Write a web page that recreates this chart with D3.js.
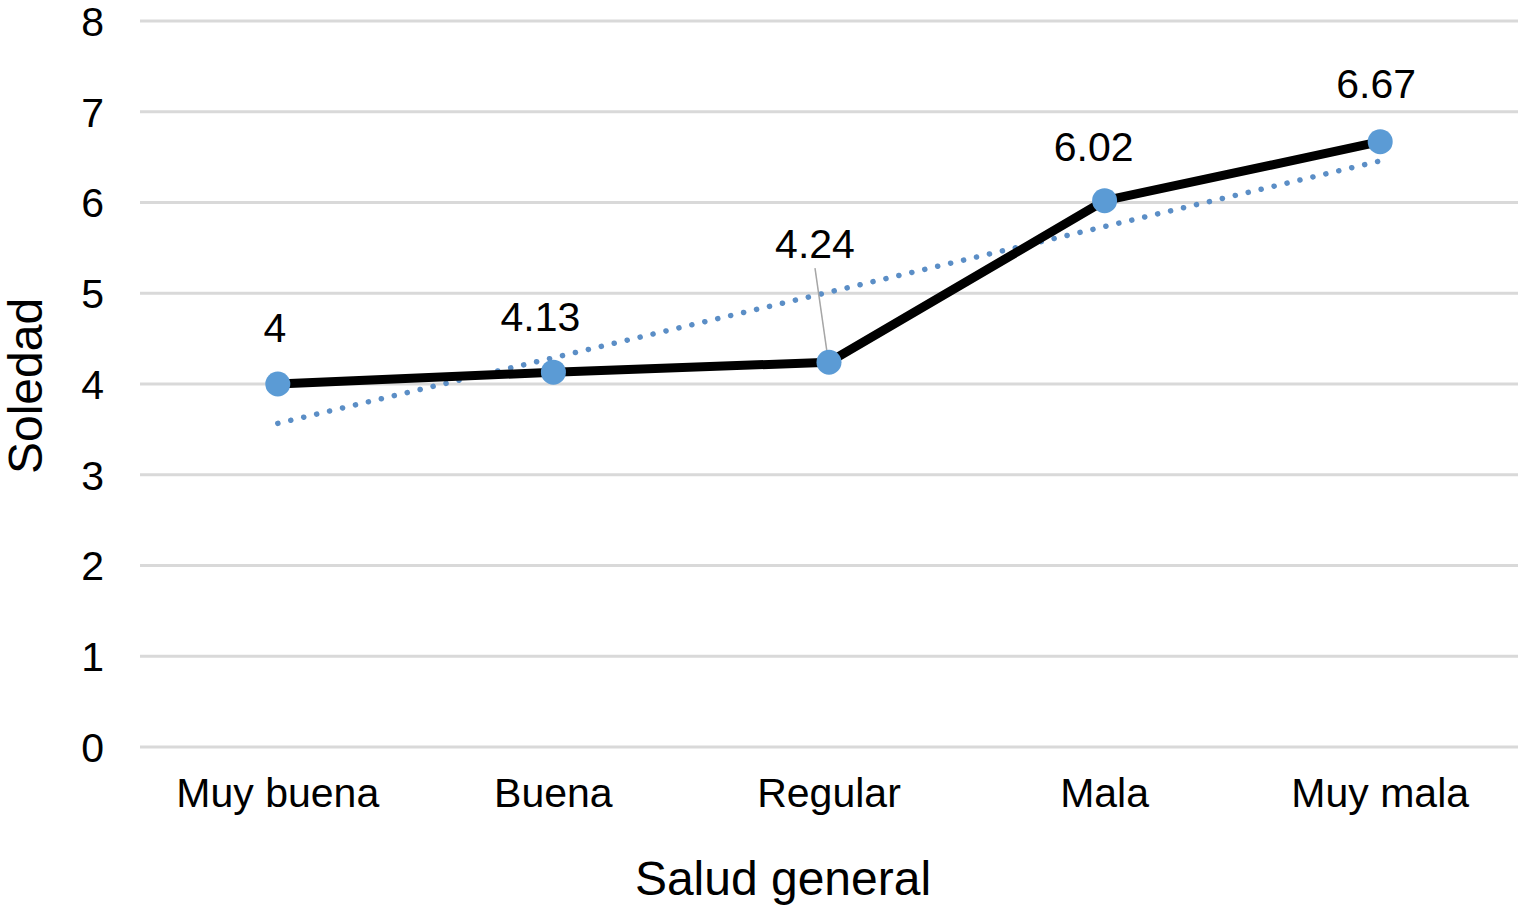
<!DOCTYPE html>
<html>
<head>
<meta charset="utf-8">
<script src="https://cdn.jsdelivr.net/npm/d3@7"></script>
<style>
  html, body { margin: 0; padding: 0; background: #fff; }
  svg { display: block; font-family: "Liberation Sans", Arial, Helvetica, sans-serif; }
</style>
</head>
<body>
<svg id="chart" width="1529" height="906"></svg>
<script>
const categories = ["Muy buena", "Buena", "Regular", "Mala", "Muy mala"];
const soledad = [4, 4.13, 4.24, 6.02, 6.67];
const yTicks = [0, 1, 2, 3, 4, 5, 6, 7, 8];

// label nudges (dx, dy above point)
const labelNudge = [[-3, 42], [-13, 41], [-14, 104], [-11, 40], [-4, 44]];

const svg = d3.select("#chart");
const margin = { top: 21, right: 11, bottom: 159, left: 140 };
const width = 1529, height = 906;

const x = d3.scaleBand().domain(categories)
  .range([margin.left, width - margin.right]);
const y = d3.scaleLinear().domain([0, 8])
  .range([height - margin.bottom, margin.top]);

// gridlines
svg.append("g")
  .selectAll("line")
  .data(yTicks)
  .join("line")
  .attr("x1", margin.left)
  .attr("x2", width - margin.right)
  .attr("y1", (d) => y(d))
  .attr("y2", (d) => y(d))
  .attr("stroke", "#d9d9d9")
  .attr("stroke-width", 3);

// y tick labels
svg.append("g")
  .selectAll("text")
  .data(yTicks)
  .join("text")
  .attr("x", 104)
  .attr("y", (d) => y(d))
  .attr("dy", "0.36em")
  .attr("text-anchor", "end")
  .attr("font-size", 41)
  .text((d) => d);

// category labels
svg.append("g")
  .selectAll("text")
  .data(categories)
  .join("text")
  .attr("x", (d) => x(d) + x.bandwidth() / 2)
  .attr("y", 807)
  .attr("text-anchor", "middle")
  .attr("font-size", 41)
  .text((d) => d);

// axis titles
svg.append("text")
  .attr("x", 783)
  .attr("y", 895)
  .attr("text-anchor", "middle")
  .attr("font-size", 48)
  .text("Salud general");

svg.append("text")
  .attr("transform", "translate(42,386) rotate(-90)")
  .attr("text-anchor", "middle")
  .attr("font-size", 48)
  .text("Soledad");

const cx = (i) => x(categories[i]) + x.bandwidth() / 2;

// linear trend (least squares over category index)
const n = soledad.length;
const xs = d3.range(1, n + 1);
const mx = d3.mean(xs), my = d3.mean(soledad);
const slope = d3.sum(xs, (v, i) => (v - mx) * (soledad[i] - my)) /
  d3.sum(xs, (v) => (v - mx) * (v - mx));
const icpt = my - slope * mx;

svg.append("line")
  .attr("x1", cx(0))
  .attr("x2", cx(n - 1))
  .attr("y1", y(icpt + slope * 1))
  .attr("y2", y(icpt + slope * n))
  .attr("stroke", "#5b8ec6")
  .attr("stroke-width", 5.5)
  .attr("stroke-linecap", "round")
  .attr("stroke-dasharray", "0.1 13.2");

// main line
svg.append("path")
  .datum(soledad)
  .attr("d", d3.line().x((d, i) => cx(i)).y((d) => y(d)))
  .attr("fill", "none")
  .attr("stroke", "#000")
  .attr("stroke-width", 9)
  .attr("stroke-linejoin", "round");

// leader line for the raised label
svg.append("line")
  .attr("x1", cx(2) - 14)
  .attr("y1", y(soledad[2]) - 94)
  .attr("x2", cx(2) - 2)
  .attr("y2", y(soledad[2]) - 10)
  .attr("stroke", "#a6a6a6")
  .attr("stroke-width", 1.5);

// markers
svg.append("g")
  .selectAll("circle")
  .data(soledad)
  .join("circle")
  .attr("cx", (d, i) => cx(i))
  .attr("cy", (d) => y(d))
  .attr("r", 12.5)
  .attr("fill", "#5b9bd5");

// data labels
svg.append("g")
  .selectAll("text")
  .data(soledad)
  .join("text")
  .attr("x", (d, i) => cx(i) + labelNudge[i][0])
  .attr("y", (d, i) => y(d) - labelNudge[i][1])
  .attr("text-anchor", "middle")
  .attr("font-size", 41)
  .text((d) => d);
</script>
</body>
</html>
